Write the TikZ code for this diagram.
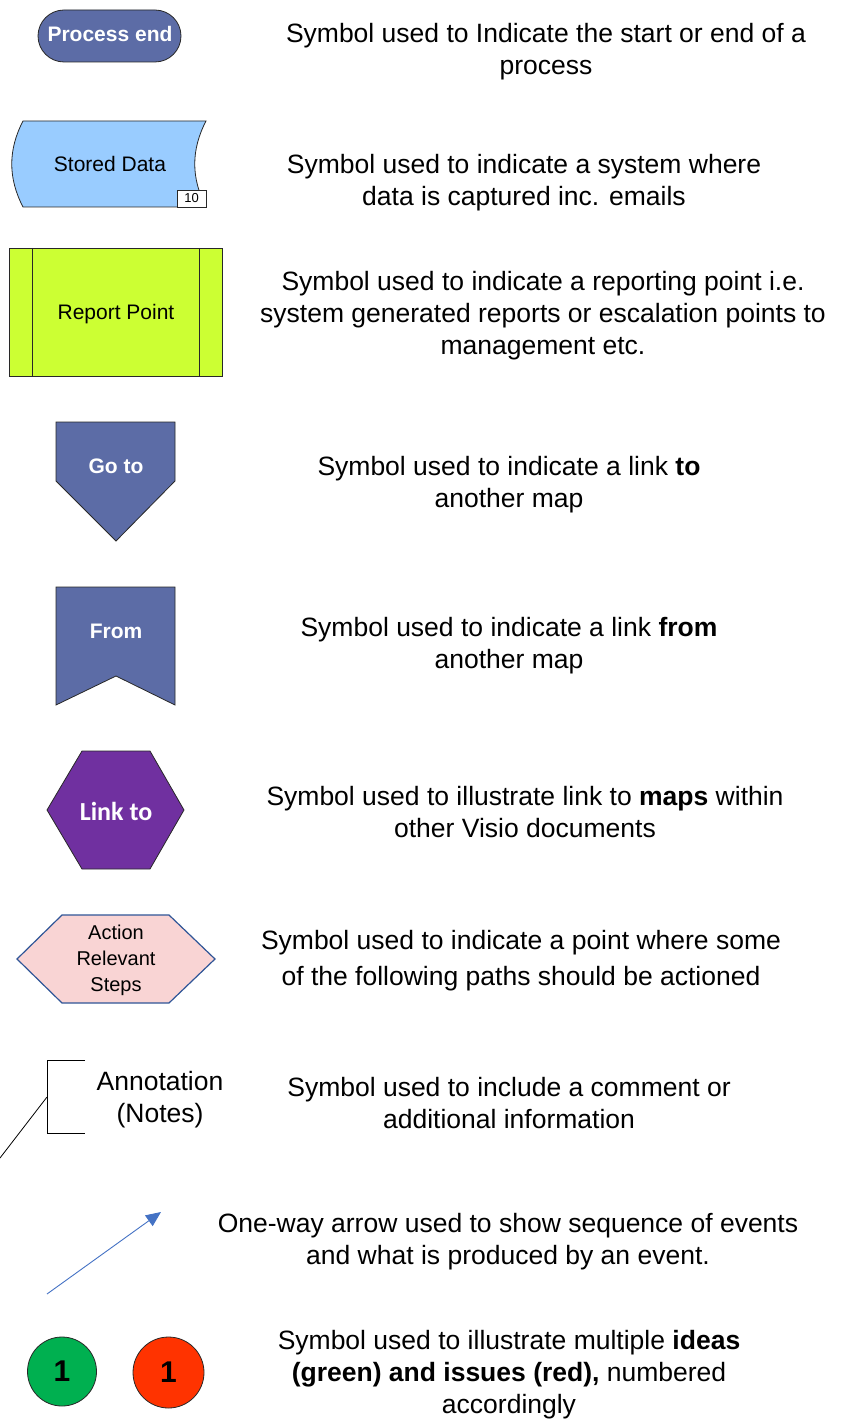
\documentclass[tikz,border=0pt]{standalone}
\usepackage{fontspec}
\setmainfont{Liberation Sans}
\newfontfamily\calib{Carlito}
\usetikzlibrary{arrows.meta}
\definecolor{procblue}{RGB}{92,108,166}
\definecolor{storeblue}{RGB}{153,204,255}
\definecolor{repgreen}{RGB}{204,255,51}
\definecolor{linkpurple}{RGB}{112,48,160}
\definecolor{actpink}{RGB}{249,212,212}
\definecolor{actborder}{RGB}{47,85,151}
\definecolor{arrowblue}{RGB}{68,114,196}
\definecolor{ideagreen}{RGB}{0,176,80}
\definecolor{issuered}{RGB}{255,51,0}
\definecolor{edgegray}{RGB}{40,40,40}
\begin{document}
\begin{tikzpicture}[x=1pt,y=-1pt,
  desc/.style={align=center,font=\fontsize{26.5}{32}\selectfont,inner sep=0pt},
  lbl/.style={font=\fontsize{21}{25}\selectfont,inner sep=0pt},
  wlbl/.style={font=\fontsize{21}{25}\selectfont\bfseries,text=white,inner sep=0pt},
  shapeline/.style={draw=edgegray,line width=0.8pt},
  numcircle/.style={circle,draw=edgegray,line width=0.8pt,font=\fontsize{30}{30}\selectfont\bfseries,inner sep=0pt}]
\useasboundingbox (0,0) rectangle (843,1423);

% 1 Process end
\node[shapeline,fill=procblue,rounded corners=26pt,minimum width=143pt,minimum height=52pt] (pe) at (109.5,36) {};
\node[wlbl] (pel) at (110,34) {Process end};
\node[desc] (d1) at (546,52) {Symbol used to Indicate the start or end of a\\process};

% 2 Stored data
\draw[shapeline,fill=storeblue] (23,121) -- (206,121) .. controls (191,150) and (191,178) .. (206,207) -- (23,207) .. controls (8,178) and (8,150) .. (23,121) -- cycle;
\node[lbl] (sd) at (110,164) {Stored Data};
\node[draw=edgegray,line width=0.6pt,fill=white,minimum width=29pt,minimum height=17pt,inner sep=0pt,font=\fontsize{13}{13}\selectfont] (sd10) at (191.5,198.5) {10};
\node[desc] (d2) at (524,183) {Symbol used to indicate a system where\\data is captured inc. emails};

% 3 Report point
\node[shapeline,fill=repgreen,minimum width=213pt,minimum height=128pt] (rp) at (115.5,312) {};
\node[lbl] (rpl) at (116,314) {Report Point};
\draw[shapeline] (32,248) -- (32,376);
\draw[shapeline] (199,248) -- (199,376);
\node[desc] (d3) at (543,316) {Symbol used to indicate a reporting point i.e.\\system generated reports or escalation points to\\management etc.};

% 4 Go to
\draw[shapeline,fill=procblue] (56,422) -- (175,422) -- (175,481) -- (116,541) -- (56,481) -- cycle;
\node[wlbl] (goto) at (116,466) {Go to};
\node[desc] (d4) at (509,485) {Symbol used to indicate a link \textbf{to}\\another map};

% 5 From
\draw[shapeline,fill=procblue] (56,587) -- (175,587) -- (175,705) -- (116,676) -- (56,705) -- cycle;
\node[wlbl] (from) at (116,631) {From};
\node[desc] (d5) at (509,646) {Symbol used to indicate a link \textbf{from}\\another map};

% 6 Link to
\draw[shapeline,fill=linkpurple] (47,810) -- (82,751) -- (150,751) -- (184,810) -- (150,869) -- (82,869) -- cycle;
\node[font=\calib\fontsize{26}{30}\selectfont\bfseries,text=white,inner sep=0pt] (link) at (116,811) {Link to};
\node[desc] (d6) at (525,812) {Symbol used to illustrate link to \textbf{maps} within\\other Visio documents};

% 7 Action relevant steps
\draw[draw=actborder,line width=1.2pt,fill=actpink] (17,959) -- (62,915) -- (169,915) -- (215,959) -- (169,1003) -- (62,1003) -- cycle;
\node[align=center,font=\fontsize{20}{26}\selectfont,inner sep=0pt] (act) at (116,960) {Action\\Relevant\\Steps};
\node[desc,font=\fontsize{26.5}{36}\selectfont] (d7) at (521,961) {Symbol used to indicate a point where some\\of the following paths should be actioned};

% 8 Annotation
\coordinate (anA) at (85,1060);
\coordinate (anB) at (47,1060);
\coordinate (anC) at (47,1133);
\coordinate (anD) at (85,1133);
\coordinate (anM) at (47,1097);
\coordinate (anE) at (0,1158);
\draw[line width=0.8pt] (anA) -- (anB) -- (anC) -- (anD);
\draw[line width=0.8pt] (anM) -- (anE);
\node[desc] (ann) at (160,1100) {Annotation\\(Notes)};
\node[desc] (d8) at (509,1103) {Symbol used to include a comment or\\additional information};

% 9 Arrow
\coordinate (arS) at (47,1294);
\coordinate (arE) at (161,1212);
\draw[arrowblue,line width=0.9pt,-{Triangle[length=15pt,width=13pt]}] (arS) -- (arE);
\node[desc] (d9) at (508,1242) {One-way arrow used to show sequence of events\\and what is produced by an event.};

% 10 Circles
\node[numcircle,fill=ideagreen,minimum size=69pt] (idea) at (62,1371.5) {1};
\node[numcircle,fill=issuered,minimum size=71pt] (issue) at (168.5,1372.5) {1};
\node[desc] (d10) at (509,1375) {Symbol used to illustrate multiple \textbf{ideas}\\\textbf{(green) and issues (red),} numbered\\accordingly};
\end{tikzpicture}
\end{document}
